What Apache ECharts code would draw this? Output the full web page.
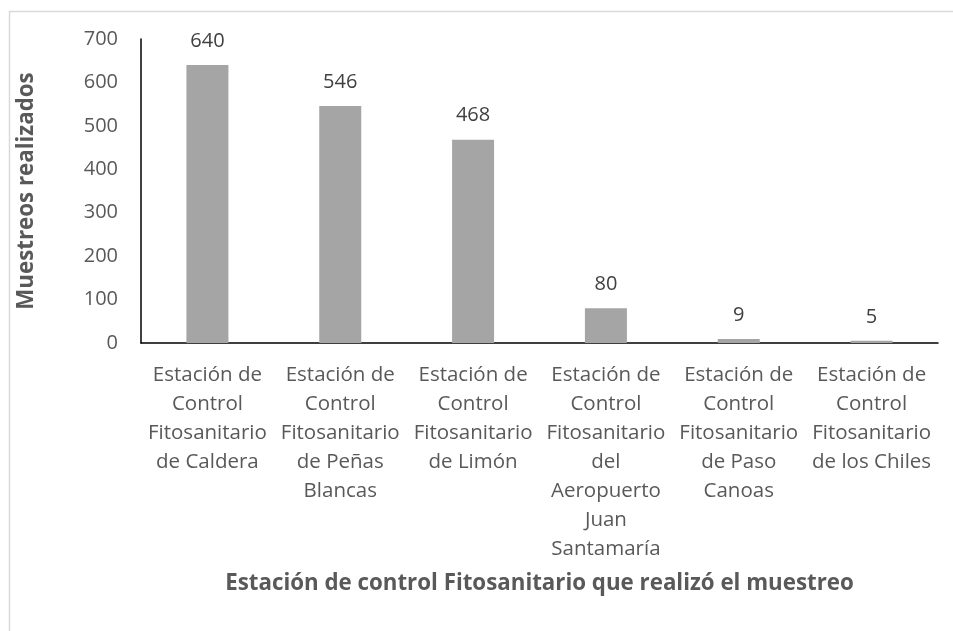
<!DOCTYPE html>
<html><head><meta charset="utf-8">
<script src="https://cdn.jsdelivr.net/npm/echarts@6/dist/echarts.min.js"></script>
<style>html,body{margin:0;padding:0;background:#fff}#c{width:953px;height:631px}</style>
</head><body><div id="c"></div>
<script>
var categories = [
  "Estación de\nControl\nFitosanitario\nde Caldera",
  "Estación de\nControl\nFitosanitario\nde Peñas\nBlancas",
  "Estación de\nControl\nFitosanitario\nde Limón",
  "Estación de\nControl\nFitosanitario\ndel\nAeropuerto\nJuan\nSantamaría",
  "Estación de\nControl\nFitosanitario\nde Paso\nCanoas",
  "Estación de\nControl\nFitosanitario\nde los Chiles"
];
var values = [640, 546, 468, 80, 9, 5];
var yTicks = [0, 100, 200, 300, 400, 500, 600, 700];
var xTitle = "Estación de control Fitosanitario que realizó el muestreo";
var yTitle = "Muestreos realizados";

var FONT = "'Open Sans', 'Noto Sans', sans-serif";
var chart = echarts.init(document.getElementById('c'), null, {renderer: 'canvas'});
chart.setOption({
  animation: false,
  backgroundColor: '#fff',
  graphic: [{
    type: 'rect', silent: true,
    shape: {x: 9.5, y: 11.5, width: 1200, height: 1000},
    style: {fill: 'none', stroke: '#d9d9d9', lineWidth: 1.5}
  }],
  grid: {left: 141, right: 15, top: 39, bottom: 288, containLabel: false},
  xAxis: {
    type: 'category',
    data: categories,
    axisLine: {show: true, lineStyle: {color: '#000', width: 1.5}},
    axisTick: {show: false},
    axisLabel: {interval: 0, margin: 18, color: '#595959', fontFamily: FONT, fontSize: 20.5, lineHeight: 29, align: 'center'},
    name: xTitle,
    nameLocation: 'middle',
    nameGap: 241,
    nameTextStyle: {color: '#595959', fontFamily: FONT, fontSize: 22.3, fontWeight: 'bold', verticalAlign: 'middle'}
  },
  yAxis: {
    type: 'value',
    min: yTicks[0], max: yTicks[yTicks.length - 1], interval: 100,
    axisLine: {show: true, lineStyle: {color: '#000', width: 1.5}},
    axisTick: {show: false},
    splitLine: {show: false},
    axisLabel: {margin: 23, color: '#595959', fontFamily: FONT, fontSize: 20},
    name: yTitle,
    nameLocation: 'middle',
    nameGap: 114,
    nameRotate: 90,
    nameTextStyle: {color: '#595959', fontFamily: FONT, fontSize: 22.3, fontWeight: 'bold', verticalAlign: 'middle'}
  },
  series: [{
    type: 'bar',
    data: values,
    barWidth: 42,
    itemStyle: {color: '#a5a5a5'},
    label: {show: true, position: 'top', distance: 14, color: '#404040', fontFamily: FONT, fontSize: 20}
  }]
});
</script></body></html>
